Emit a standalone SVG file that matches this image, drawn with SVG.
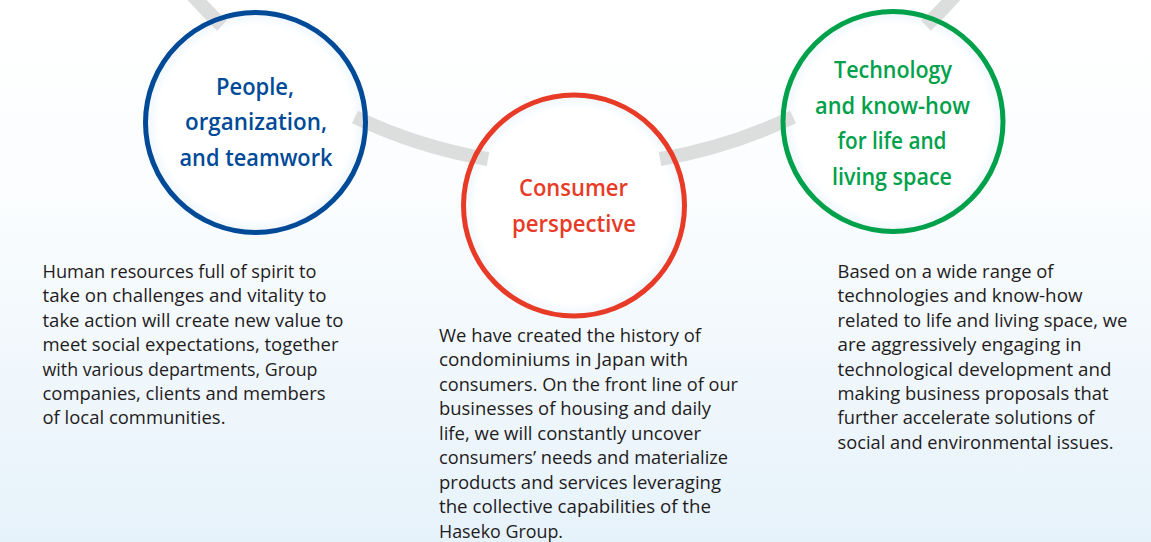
<svg xmlns="http://www.w3.org/2000/svg" width="1151" height="542" viewBox="0 0 1151 542">
  <defs>
    <linearGradient id="bg" x1="0" y1="0" x2="0" y2="1">
      <stop offset="0" stop-color="#ffffff"/>
      <stop offset="0.35" stop-color="#fbfdfe"/>
      <stop offset="1" stop-color="#e6f2fa"/>
    </linearGradient>
    <radialGradient id="inner" cx="0.5" cy="0.5" r="0.5">
      <stop offset="0" stop-color="#ffffff"/>
      <stop offset="0.88" stop-color="#ffffff"/>
      <stop offset="1" stop-color="#eef6fb"/>
    </radialGradient>
    <style>
      .band { fill: none; stroke: #dcdddd; stroke-width: 14; stroke-linecap: butt; }
      .fill { fill: url(#inner); }
      .ring { fill: none; stroke-width: 5; }
      .label { font-family: "Open Sans", "Noto Sans", sans-serif; font-weight: 600; font-size: 23px; text-anchor: start; }
      .body { font-family: "Open Sans", "Noto Sans", sans-serif; font-size: 19px; fill: #1f1c1d; }
      .blue { stroke: #004a98; }
      .red { stroke: #e83b27; }
      .green { stroke: #00a14b; }
      .tblue { fill: #004a98; }
      .tred { fill: #e83b27; }
      .tgreen { fill: #00a14b; }
    </style>
  </defs>

  <rect x="0" y="0" width="1151" height="542" fill="url(#bg)"/>

  <!-- circle fills -->
  <g id="fills">
    <circle class="fill" cx="255.5" cy="122.5" r="110"/>
    <circle class="fill" cx="574" cy="205.5" r="110.5"/>
    <circle class="fill" cx="893" cy="121.5" r="110"/>
  </g>

  <!-- connectors: grey arc band -->
  <g id="connectors">
    <path class="band" d="M 192.5 -5 A 510.3 510.3 0 0 0 222 25.6"/>
    <path class="band" d="M 355 117 A 510.3 510.3 0 0 0 488 159.1"/>
    <path class="band" d="M 660 159.1 A 510.3 510.3 0 0 0 793 117"/>
    <path class="band" d="M 926 25.6 A 510.3 510.3 0 0 0 955.5 -5"/>
  </g>

  <g id="node-people">
    <circle class="ring blue" cx="255.5" cy="122.5" r="110"/>
    <text class="label tblue" x="216" y="95" textLength="78" lengthAdjust="spacingAndGlyphs">People,</text>
    <text class="label tblue" x="185" y="130" textLength="142" lengthAdjust="spacingAndGlyphs">organization,</text>
    <text class="label tblue" x="179.5" y="166" textLength="153" lengthAdjust="spacingAndGlyphs">and teamwork</text>
  </g>

  <g id="node-consumer">
    <circle class="ring red" cx="574" cy="205.5" r="110.5"/>
    <text class="label tred" x="519" y="196" textLength="109" lengthAdjust="spacingAndGlyphs">Consumer</text>
    <text class="label tred" x="512" y="232" textLength="124" lengthAdjust="spacingAndGlyphs">perspective</text>
  </g>

  <g id="node-technology">
    <circle class="ring green" cx="893" cy="121.5" r="110"/>
    <text class="label tgreen" x="834" y="77.5" textLength="118" lengthAdjust="spacingAndGlyphs">Technology</text>
    <text class="label tgreen" x="815" y="113.5" textLength="155" lengthAdjust="spacingAndGlyphs">and know-how</text>
    <text class="label tgreen" x="837.5" y="149" textLength="109" lengthAdjust="spacingAndGlyphs">for life and</text>
    <text class="label tgreen" x="832" y="185" textLength="120" lengthAdjust="spacingAndGlyphs">living space</text>
  </g>

  <g id="text-people">
    <text class="body" x="42.5" y="278" textLength="274" lengthAdjust="spacingAndGlyphs">Human resources full of spirit to</text>
    <text class="body" x="42.5" y="302.4" textLength="284" lengthAdjust="spacingAndGlyphs">take on challenges and vitality to</text>
    <text class="body" x="42.5" y="326.8" textLength="301" lengthAdjust="spacingAndGlyphs">take action will create new value to</text>
    <text class="body" x="42.5" y="351.2" textLength="296" lengthAdjust="spacingAndGlyphs">meet social expectations, together</text>
    <text class="body" x="42.5" y="375.6" textLength="275" lengthAdjust="spacingAndGlyphs">with various departments, Group</text>
    <text class="body" x="42.5" y="400" textLength="283" lengthAdjust="spacingAndGlyphs">companies, clients and members</text>
    <text class="body" x="42.5" y="424.4" textLength="183" lengthAdjust="spacingAndGlyphs">of local communities.</text>
  </g>

  <g id="text-consumer">
    <text class="body" x="439" y="341.5" textLength="262" lengthAdjust="spacingAndGlyphs">We have created the history of</text>
    <text class="body" x="439" y="366" textLength="249" lengthAdjust="spacingAndGlyphs">condominiums in Japan with</text>
    <text class="body" x="439" y="390.5" textLength="299" lengthAdjust="spacingAndGlyphs">consumers. On the front line of our</text>
    <text class="body" x="439" y="415" textLength="272" lengthAdjust="spacingAndGlyphs">businesses of housing and daily</text>
    <text class="body" x="439" y="439.5" textLength="262" lengthAdjust="spacingAndGlyphs">life, we will constantly uncover</text>
    <text class="body" x="439" y="464" textLength="289" lengthAdjust="spacingAndGlyphs">consumers’ needs and materialize</text>
    <text class="body" x="439" y="488.5" textLength="282" lengthAdjust="spacingAndGlyphs">products and services leveraging</text>
    <text class="body" x="439" y="513" textLength="272" lengthAdjust="spacingAndGlyphs">the collective capabilities of the</text>
    <text class="body" x="439" y="537.5" textLength="124" lengthAdjust="spacingAndGlyphs">Haseko Group.</text>
  </g>

  <g id="text-technology">
    <text class="body" x="837.5" y="278" textLength="216" lengthAdjust="spacingAndGlyphs">Based on a wide range of</text>
    <text class="body" x="837.5" y="302.4" textLength="245" lengthAdjust="spacingAndGlyphs">technologies and know-how</text>
    <text class="body" x="837.5" y="326.8" textLength="290" lengthAdjust="spacingAndGlyphs">related to life and living space, we</text>
    <text class="body" x="837.5" y="351.2" textLength="244" lengthAdjust="spacingAndGlyphs">are aggressively engaging in</text>
    <text class="body" x="837.5" y="375.6" textLength="274" lengthAdjust="spacingAndGlyphs">technological development and</text>
    <text class="body" x="837.5" y="400" textLength="271" lengthAdjust="spacingAndGlyphs">making business proposals that</text>
    <text class="body" x="837.5" y="424.4" textLength="257" lengthAdjust="spacingAndGlyphs">further accelerate solutions of</text>
    <text class="body" x="837.5" y="448.8" textLength="276" lengthAdjust="spacingAndGlyphs">social and environmental issues.</text>
  </g>
</svg>
